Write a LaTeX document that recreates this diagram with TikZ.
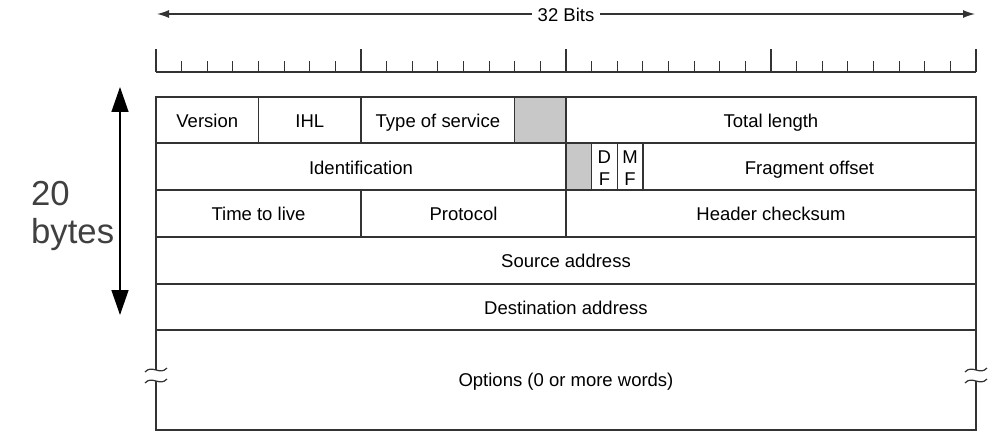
\documentclass[tikz,border=0pt]{standalone}
\usepackage{fontspec}
\setmainfont{Liberation Sans}
\usetikzlibrary{arrows.meta}
\definecolor{ln}{HTML}{333333}
\definecolor{shade}{HTML}{C8C8C8}
\definecolor{big}{HTML}{404040}
\tikzset{
  lbl/.style={font=\fontsize{18.5}{21}\selectfont, text=black, inner sep=0pt, anchor=base},
  boxline/.style={draw=ln, line width=1.4pt},
  greycell/.style={fill=shade, draw=ln, line width=1.4pt},
  brk/.style={draw=ln, line width=1.2pt},
}
\begin{document}
\begin{tikzpicture}[x=1pt,y=-1pt]
\useasboundingbox (0,0) rectangle (997,444);
% top 32 bits arrow
\coordinate (tl) at (157,14);
\coordinate (tr) at (975,14);
\draw[ln, line width=1.3pt, {Latex[length=12pt,width=8pt]}-{Latex[length=12pt,width=8pt]}] (tl) -- (tr);
\node[lbl, anchor=center, fill=white, inner xsep=6pt, inner ysep=3pt] (bits) at (566,15) {32 Bits};
% ruler
\draw[ln, line width=1.3pt] (156,72) -- (976,72);
\foreach \i in {0,...,32}{
  \pgfmathsetmacro{\xx}{156+\i*25.625}
  \pgfmathtruncatemacro{\m}{mod(\i,8)}
  \ifnum\m=0
    \draw[ln, line width=1.3pt] (\xx,72) -- (\xx,49);
  \else
    \draw[ln, line width=1.2pt] (\xx,72) -- (\xx,61);
  \fi
}
% grey cells
\path[greycell] (514.75,97) rectangle (566,143);
\path[greycell] (566,143) rectangle (591.6,190);
% grid
\draw[boxline] (156,97) rectangle (976,330);
\draw[boxline] (156,143) -- (976,143);
\draw[boxline] (156,190) -- (976,190);
\draw[boxline] (156,237) -- (976,237);
\draw[boxline] (156,284) -- (976,284);
\draw[boxline] (156,330) -- (976,330);
\draw[boxline] (258.5,97) -- (258.5,143);
\draw[boxline] (361,97) -- (361,143);
\draw[boxline] (566,97) -- (566,237);
\draw[boxline] (617.25,143) -- (617.25,190);
\draw[boxline] (642.9,143) -- (642.9,190);
\draw[boxline] (361,190) -- (361,237);
% options box with breaks
\draw[boxline] (156,370) -- (156,330) -- (976,330) -- (976,370);
\draw[boxline] (156,381) -- (156,430) -- (976,430) -- (976,381);
\foreach \xb in {156,976}{
  \draw[brk] (\xb-11,372) .. controls (\xb-4,364) and (\xb+4,376) .. (\xb+11,368);
  \draw[brk] (\xb-11,383) .. controls (\xb-4,375) and (\xb+4,387) .. (\xb+11,379);
}
% labels (base anchored)
\node[lbl] (version) at (207.25,128) {Version};
\node[lbl] (ihl) at (309.75,128) {IHL};
\node[lbl] (tos) at (437.9,128) {Type of service};
\node[lbl] (tlen) at (771,128) {Total length};
\node[lbl] (ident) at (361,174) {Identification};
\node[lbl] (frag) at (809.5,174) {Fragment offset};
\node[lbl, anchor=base] (dfd) at (604.4,164) {D};
\node[lbl, anchor=base] (dff) at (604.4,185) {F};
\node[lbl, anchor=base] (mfm) at (630.1,164) {M};
\node[lbl, anchor=base] (mff) at (630.1,185) {F};
\node[lbl] (ttl) at (258.5,220) {Time to live};
\node[lbl] (proto) at (463.5,220) {Protocol};
\node[lbl] (hcs) at (771,220) {Header checksum};
\node[lbl] (src) at (566,267) {Source address};
\node[lbl] (dst) at (566,314) {Destination address};
\node[lbl] (opt) at (566,386) {Options (0 or more words)};
% 20 bytes arrow
\coordinate (at) at (120,87);
\coordinate (ab) at (120,315);
\draw[black, line width=1.4pt, {Triangle[length=25pt,width=17pt]}-{Triangle[length=25pt,width=17pt]}] (at) -- (ab);
\node[font=\fontsize{34.7}{38}\selectfont, text=big, anchor=base west, inner sep=0pt] (twenty) at (31,205) {20};
\node[font=\fontsize{34.7}{38}\selectfont, text=big, anchor=base west, inner sep=0pt] (bytes) at (31,243) {bytes};
\end{tikzpicture}
\end{document}
